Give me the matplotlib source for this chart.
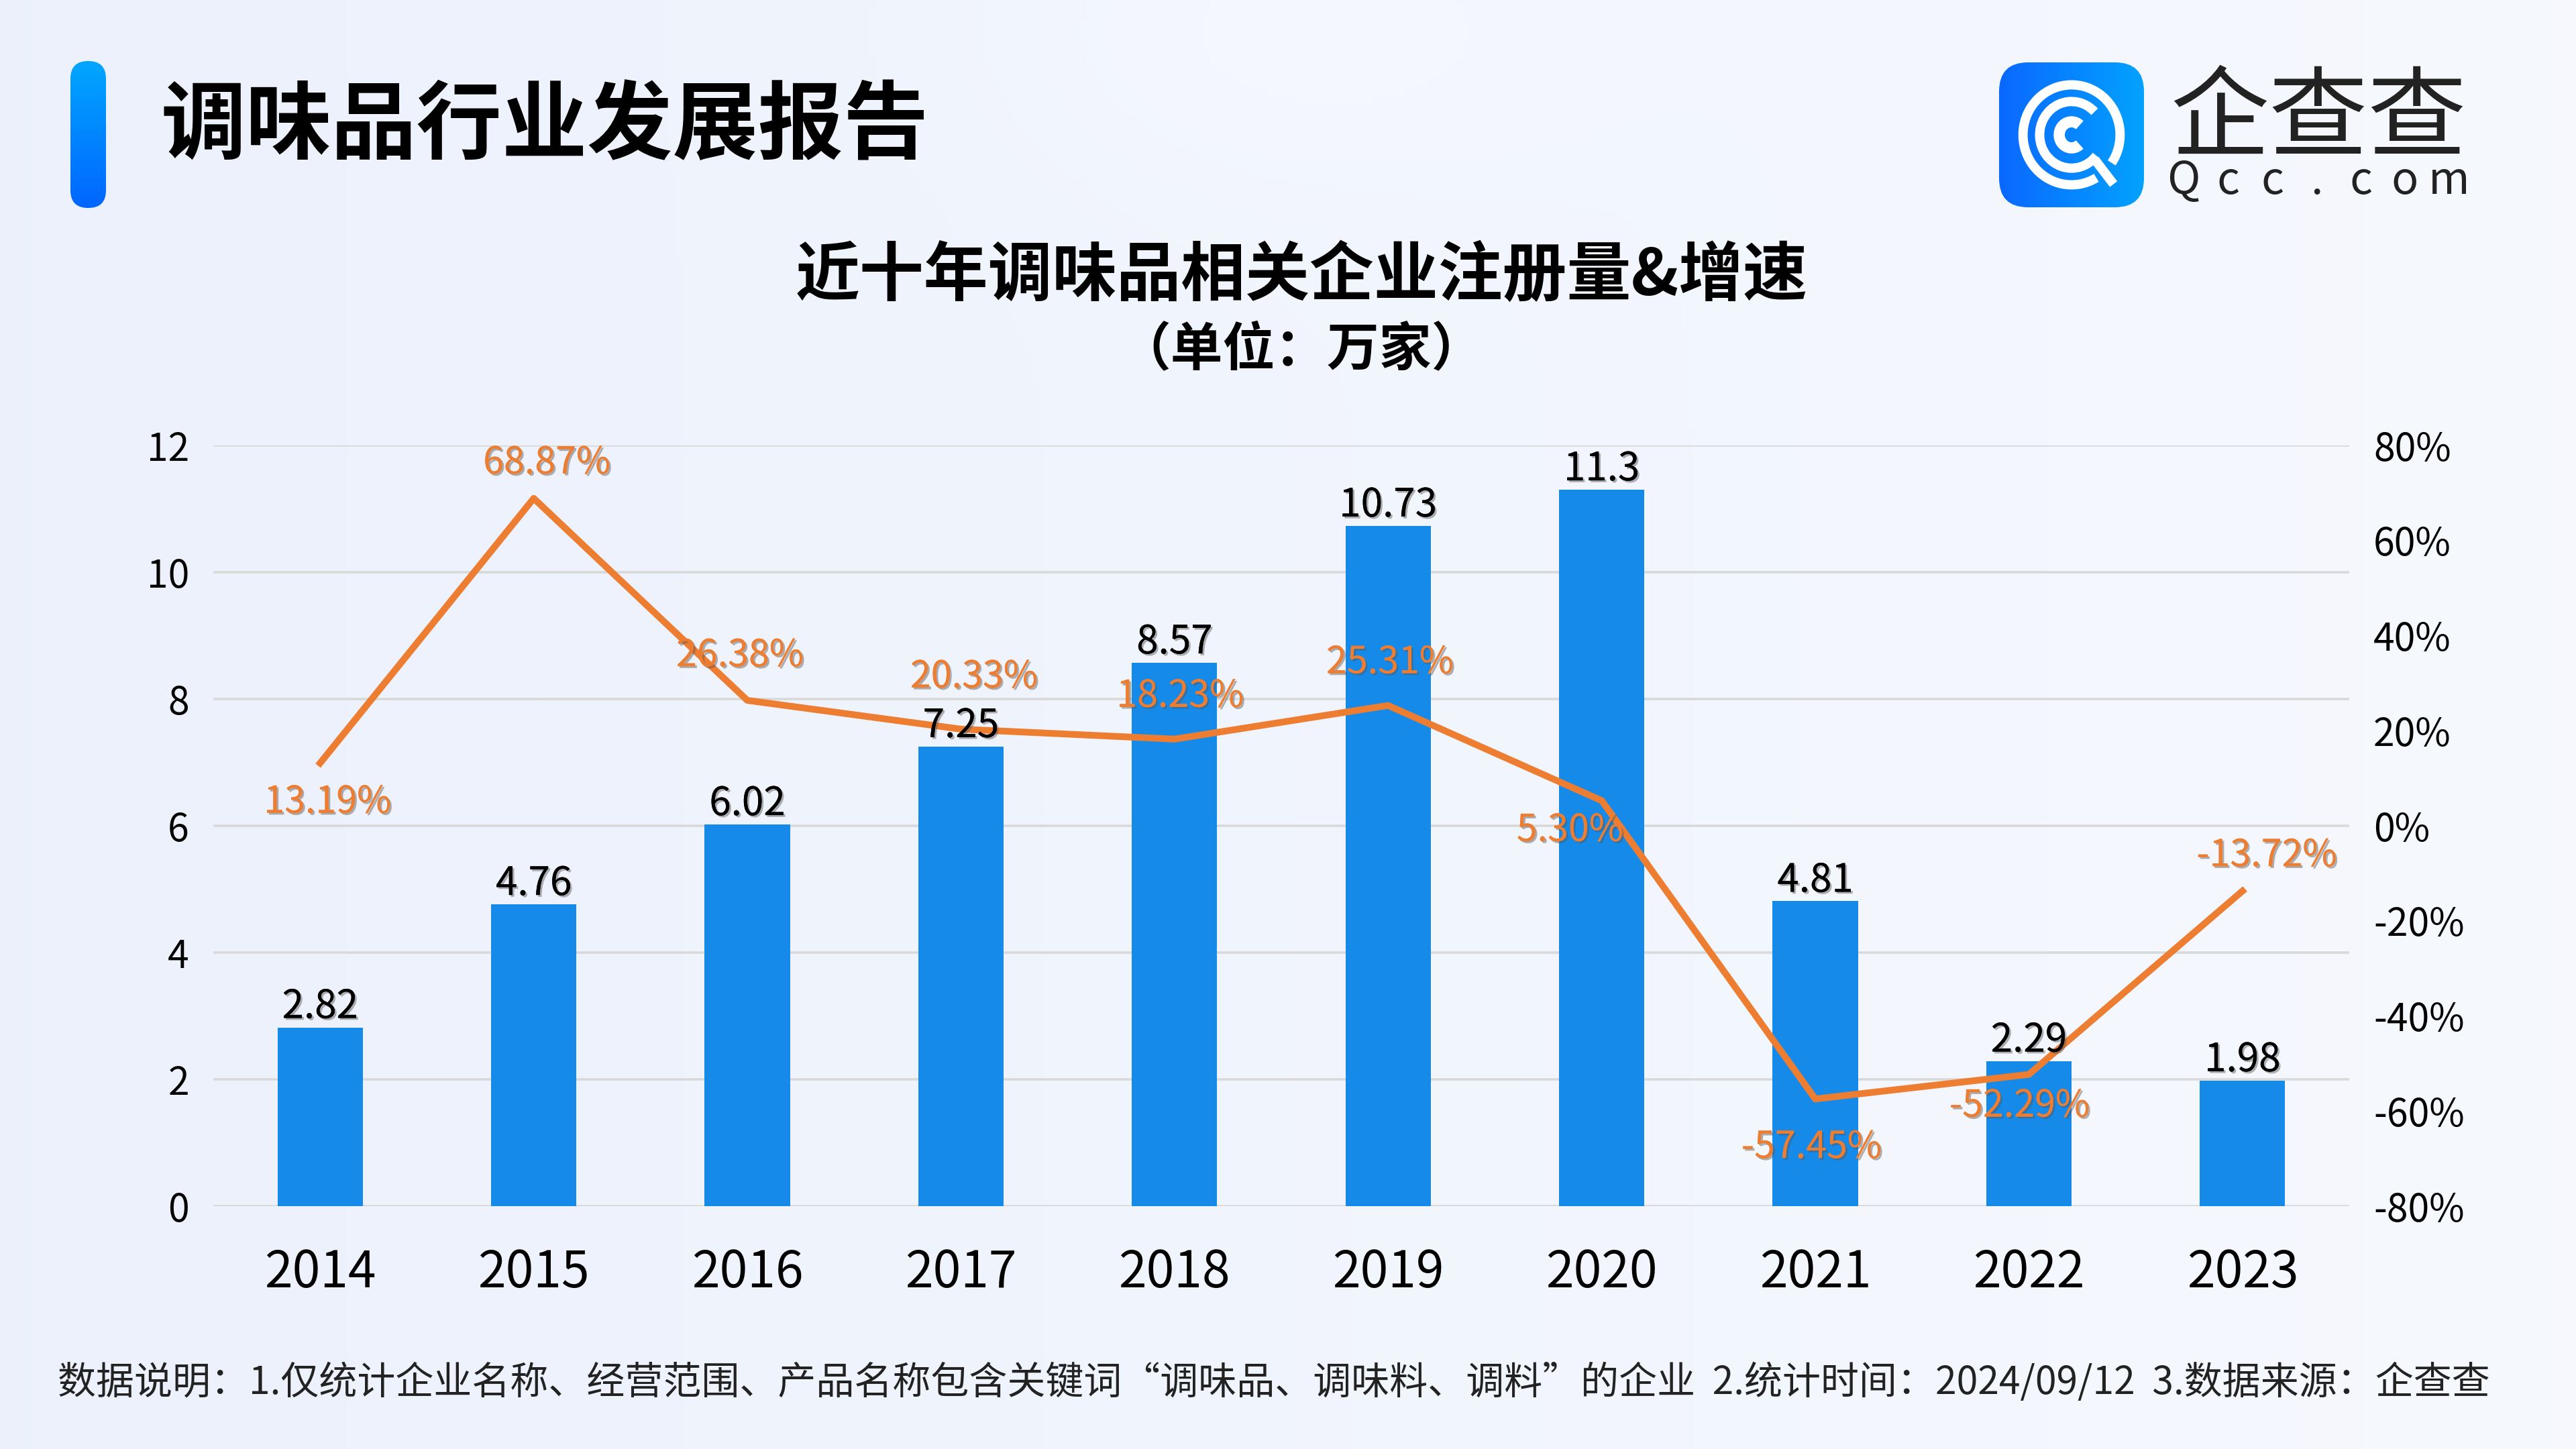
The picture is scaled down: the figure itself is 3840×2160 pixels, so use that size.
import numpy as np
import matplotlib
matplotlib.use("Agg")
import matplotlib.pyplot as plt
import matplotlib.patheffects as pe
from matplotlib.patches import FancyBboxPatch, Arc
from matplotlib.colors import LinearSegmentedColormap

plt.rcParams['font.family'] = ['Noto Sans CJK SC', 'DejaVu Sans']
plt.rcParams['axes.unicode_minus'] = False

# data
years = ['2014', '2015', '2016', '2017', '2018', '2019', '2020', '2021', '2022', '2023']
reg_counts = [2.82, 4.76, 6.02, 7.25, 8.57, 10.73, 11.3, 4.81, 2.29, 1.98]
growth = [13.19, 68.87, 26.38, 20.33, 18.23, 25.31, 5.30, -57.45, -52.29, -13.72]
growth_labels = ['13.19%', '68.87%', '26.38%', '20.33%', '18.23%', '25.31%', '5.30%',
                 '-57.45%', '-52.29%', '-13.72%']
left_ticks = [0, 2, 4, 6, 8, 10, 12]
right_ticks = [-80, -60, -40, -20, 0, 20, 40, 60, 80]

# label offsets (points) for the growth labels, picked by eye
pct_off = [(4, -21), (7, 19), (-4, 24), (7, 28), (3, 23), (1, 23), (-17, -16),
           (-2, -26), (-5, -17), (13, 19)]

BAR = '#168AE9'
LINE = '#ED7D31'

fig = plt.figure(figsize=(19.2, 10.8), dpi=200)

# background gradient
bg = fig.add_axes([0, 0, 1, 1], zorder=-10)
xx, yy = np.meshgrid(np.linspace(0, 1, 400), np.linspace(0, 1, 225))
c_left = np.array([0.925, 0.945, 0.988])
c_right = np.array([0.965, 0.975, 0.995])
t = xx[..., None]
img = c_left * (1 - t) + c_right * t
blob = np.exp(-(((xx - 0.5) / 0.12) ** 2 + ((yy - 0.02) / 0.12) ** 2))[..., None]
img = img * (1 - 0.4 * blob) + np.array([0.98, 0.985, 1.0]) * 0.4 * blob
bg.imshow(img, extent=[0, 1, 0, 1], aspect='auto', origin='upper')
bg.axis('off')

# header pill
pill = fig.add_axes([105 / 3840, 1 - 310 / 2160, 53 / 3840, 219 / 2160])
pill.set_xlim(0, 1)
pill.set_ylim(0, 1)
pill.axis('off')
pcmap = LinearSegmentedColormap.from_list('p', ['#0066FF', '#00A6FF'])
grad = np.linspace(0, 1, 100).reshape(-1, 1)
im = pill.imshow(grad, cmap=pcmap, extent=[0, 1, 0, 1], aspect='auto', origin='lower')
clip = FancyBboxPatch((0, 0), 1, 1, boxstyle='round,pad=0,rounding_size=0.5',
                      mutation_aspect=0.24, transform=pill.transData, facecolor='none',
                      edgecolor='none')
pill.add_patch(clip)
im.set_clip_path(clip)

fig.text(240 / 3840, 1 - 190 / 2160, '调味品行业发展报告', fontsize=45.8, fontweight='heavy',
         color='#000000', va='center', ha='left')

# logo icon
logo = fig.add_axes([2980 / 3840, 1 - 309 / 2160, 216 / 3840, 216 / 2160])
logo.set_xlim(0, 1)
logo.set_ylim(0, 1)
logo.axis('off')
lcmap = LinearSegmentedColormap.from_list('l', ['#0A68FF', '#03A2FF'])
lim = logo.imshow(np.linspace(0, 1, 100).reshape(1, -1), cmap=lcmap, extent=[0, 1, 0, 1],
                  aspect='auto')
lclip = FancyBboxPatch((0, 0), 1, 1, boxstyle='round,pad=0,rounding_size=0.2',
                       transform=logo.transData, facecolor='none', edgecolor='none')
logo.add_patch(lclip)
lim.set_clip_path(lclip)
logo.add_patch(Arc((0.5, 0.5), 0.67, 0.69, theta1=-35, theta2=300, color='white', lw=5))
logo.add_patch(Arc((0.5, 0.5), 0.44, 0.46, theta1=45, theta2=320, color='white', lw=5))
logo.add_patch(Arc((0.5, 0.5), 0.17, 0.18, theta1=50, theta2=310, color='white', lw=6))
logo.plot([0.66, 0.79], [0.33, 0.16], color='white', lw=5, solid_capstyle='butt')

fig.text(3456 / 3840, 1 - 180 / 2160, '企查查', fontsize=53, color='#222222',
         ha='center', va='center')
for i, ch in enumerate('Qcc.com'):
    fig.text((3255 + i * 66) / 3840, 1 - 270 / 2160, ch, fontsize=24, color='#222222',
             fontweight='medium', ha='center', va='center')

# chart titles
fig.text(1940 / 3840, 1 - 412 / 2160, '近十年调味品相关企业注册量&增速', fontsize=34.5,
         fontweight='bold', ha='center', va='center', color='#000000')
fig.text(1940 / 3840, 1 - 522 / 2160, '（单位：万家）', fontsize=28,
         fontweight='bold', ha='center', va='center', color='#000000')

# main chart
ax = fig.add_axes([318 / 3840, 1 - 1798 / 2160, (3502 - 318) / 3840, (1798 - 664) / 2160])
ax.patch.set_alpha(0)
x = np.arange(len(years))
ax.bar(x, reg_counts, width=0.4, color=BAR, zorder=2)
ax.set_xlim(-0.5, len(years) - 0.5)
ax.set_ylim(0, 12)
ax.set_yticks(left_ticks)
ax.set_xticks(x)
ax.set_xticklabels(years, fontsize=27)
ax.tick_params(axis='y', labelsize=20.5, length=0, pad=13)
ax.tick_params(axis='x', length=0, pad=22)
ax.grid(axis='y', color='#D9D9D9', lw=1.3, zorder=0)
for s in ax.spines.values():
    s.set_visible(False)

ax2 = ax.twinx()
ax2.plot(x, growth, color=LINE, lw=3.6, zorder=3)
ax2.set_ylim(-80, 80)
ax2.set_yticks(right_ticks)
ax2.set_yticklabels([f'{v}%' for v in right_ticks])
ax2.tick_params(axis='y', labelsize=20.5, length=0, pad=13)
for s in ax2.spines.values():
    s.set_visible(False)

shadow = [pe.withSimplePatchShadow(offset=(1.0, -1.0), shadow_rgbFace='#555555', alpha=0.45),
          pe.Normal()]

for i, v in enumerate(reg_counts):
    ax2.annotate(f'{v:g}', xy=(i, v), xycoords=ax.transData, xytext=(0, 11),
                 textcoords='offset points', ha='center', va='center', fontsize=21,
                 color='#000000', path_effects=shadow, zorder=5)

for i, (v, lab) in enumerate(zip(growth, growth_labels)):
    dx, dy = pct_off[i]
    ax2.annotate(lab, xy=(i, v), xytext=(dx, dy), textcoords='offset points',
                 ha='center', va='center', fontsize=20, color=LINE,
                 path_effects=shadow, zorder=5)

fig.text(86 / 3840, 1 - 2062 / 2160,
         '数据说明：1.仅统计企业名称、经营范围、产品名称包含关键词“调味品、调味料、调料”的企业  '
         '2.统计时间：2024/09/12  3.数据来源：企查查',
         fontsize=20.5, color='#222222', ha='left', va='center')

fig.savefig('out.png', dpi=200)
